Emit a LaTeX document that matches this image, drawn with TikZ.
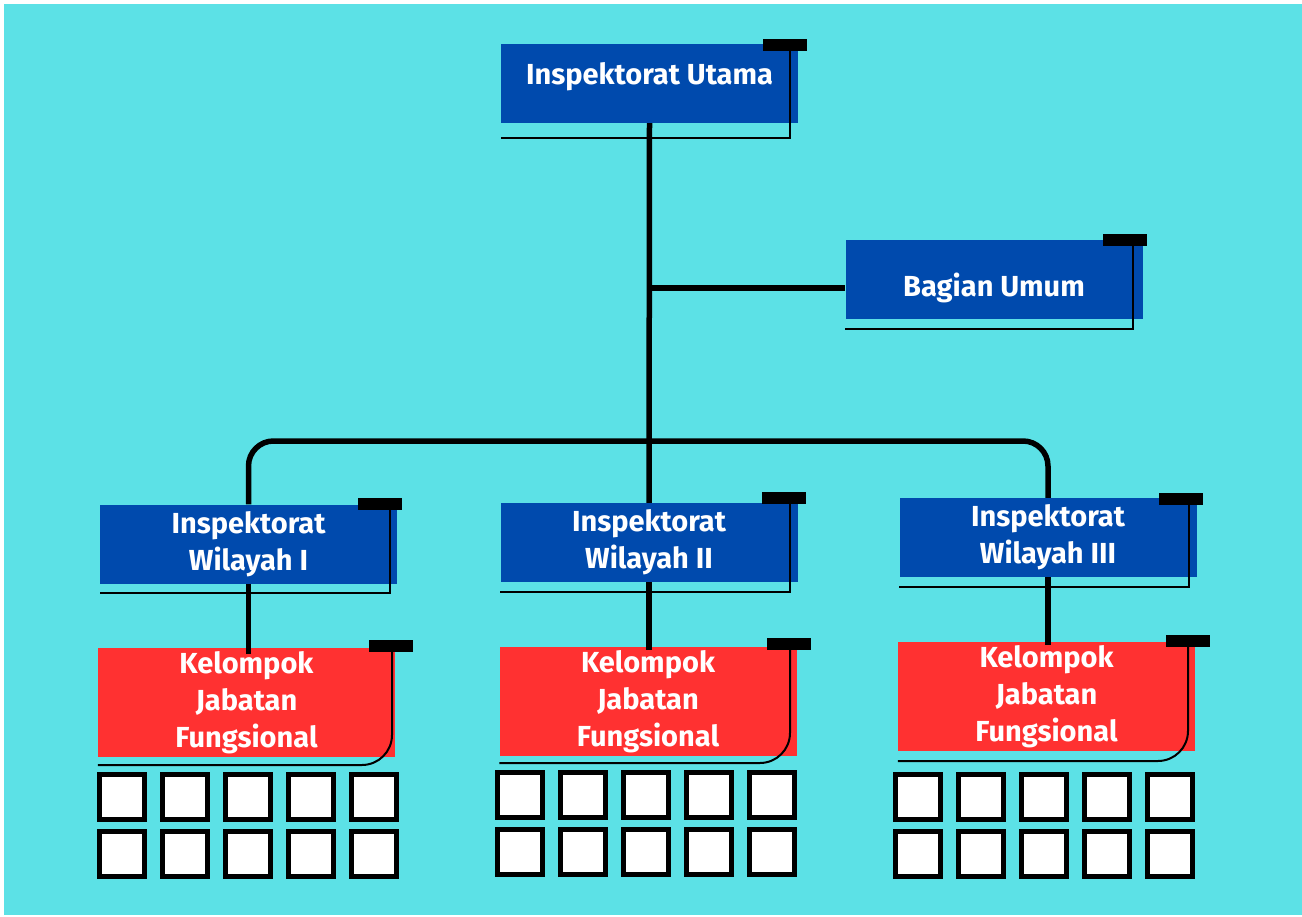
\documentclass[tikz,border=0pt]{standalone}
\usepackage{fontspec}
\setmainfont{Fira Sans}
\definecolor{bgcyan}{HTML}{5CE1E6}
\definecolor{boxblue}{HTML}{004AAD}
\definecolor{boxred}{HTML}{FF3131}
\tikzset{
  unit/.style={text=white, font=\fontsize{29}{37}\selectfont\bfseries, align=center, inner sep=0pt},
  bluebox/.style={unit, fill=boxblue, minimum width=297pt, minimum height=79pt},
  redbox/.style={unit, fill=boxred, minimum width=297pt, minimum height=109pt},
  cornertab/.style={fill=black, minimum width=44pt, minimum height=12pt, inner sep=0pt},
  trim/.style={line width=2pt},
  link/.style={line width=5.5pt},
  cell/.style={draw=black, fill=white, line width=5pt, minimum size=45pt, inner sep=0pt},
}
\begin{document}
\begin{tikzpicture}[x=1pt, y=-1pt]
  \fill[white] (0,0) rectangle (1302,917);
  \fill[bgcyan] (4,4) rectangle (1302,915);

  % boxes
  \node[bluebox, text height=21pt, text depth=18pt] (utama) at (649.5,83.5) {Inspektorat Utama};
  \node[bluebox, text height=42pt, text depth=7pt] (umum) at (994,279.5) {Bagian Umum};
  \node[bluebox] (wil1) at (248.5,544) {Inspektorat\\Wilayah I};
  \node[bluebox] (wil2) at (649,542.5) {Inspektorat\\Wilayah II};
  \node[bluebox] (wil3) at (1048,537.5) {Inspektorat\\Wilayah III};
  \node[redbox] (kel1) at (246.5,702.5) {Kelompok\\Jabatan\\Fungsional};
  \node[redbox] (kel2) at (648,701.5) {Kelompok\\Jabatan\\Fungsional};
  \node[redbox] (kel3) at (1046.5,696.5) {Kelompok\\Jabatan\\Fungsional};

  % trims
  \draw[trim] (790,45) |- (utama.south west |- 0,138);
  \draw[trim] (1133,240) |- (umum.south west |- 0,329);
  \draw[trim] (390,504) |- (wil1.south west |- 0,593);
  \draw[trim] (790,498) |- (wil2.south west |- 0,592);
  \draw[trim] (1189,499) |- (wil3.south west |- 0,587);
  \draw[trim, rounded corners=30pt] (392,645) |- (kel1.south west |- 0,765);
  \draw[trim, rounded corners=30pt] (790,644) |- (kel2.south west |- 0,763);
  \draw[trim, rounded corners=30pt] (1188,641) |- (kel3.south west |- 0,761);

  % tabs
  \node[cornertab] (tutama) at (784.5,45) {};
  \node[cornertab] (tumum) at (1125,240) {};
  \node[cornertab] (twil1) at (380,504) {};
  \node[cornertab] (twil2) at (784,498) {};
  \node[cornertab] (twil3) at (1180.5,499) {};
  \node[cornertab] (tkel1) at (390.5,645.5) {};
  \node[cornertab] (tkel2) at (789,644) {};
  \node[cornertab] (tkel3) at (1188,641) {};

  % links
  \coordinate (fork) at (650,288);
  \coordinate (bus) at (650,441);
  \draw[link] (utama.south) -- (wil2.north);
  \draw[link] (fork) -- (fork -| umum.west);
  \draw[link, rounded corners=25pt] (wil1.north) |- (bus) -| (wil3.north);
  \draw[link] (wil1.south) -- ++(0,70);
  \draw[link] (wil2.south) -- ++(0,68);
  \draw[link] (wil3.south) -- ++(0,68);

  % cells
  \foreach \g/\x/\y in {1/122/797, 2/520/795, 3/918/797}
    \foreach \i in {0,...,4}
      \foreach \j in {0,1}
        \node[cell] (c\g-\i-\j) at (\x+63*\i, \y+57*\j) {};
\end{tikzpicture}
\end{document}
